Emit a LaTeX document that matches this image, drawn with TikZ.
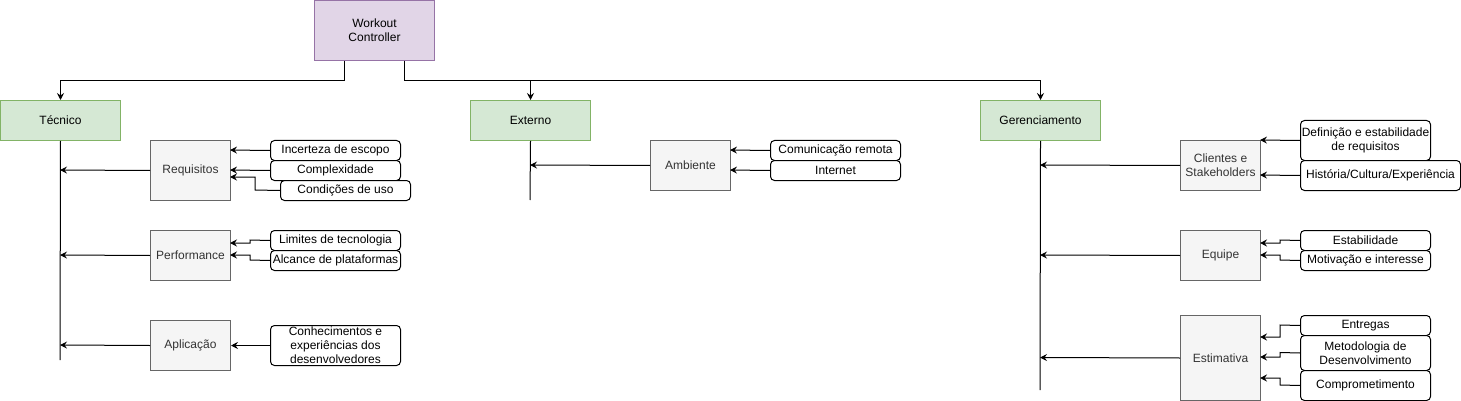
\documentclass[tikz,border=0pt]{standalone}
\usepackage{fontspec}
\setmainfont{Liberation Sans}
\usetikzlibrary{arrows.meta}
\definecolor{purpfill}{HTML}{E1D5E7}
\definecolor{purpline}{HTML}{9673A6}
\definecolor{grnfill}{HTML}{D5E8D4}
\definecolor{grnline}{HTML}{82B366}
\definecolor{gryfill}{HTML}{F5F5F5}
\definecolor{gryline}{HTML}{666666}
\definecolor{grytext}{HTML}{333333}
\tikzset{
  base/.style={font=\fontsize{12}{14}\selectfont, align=center, inner sep=0pt, anchor=north west, line width=1pt},
  rootbox/.style={base, draw=purpline, fill=purpfill},
  catbox/.style={base, draw=grnline, fill=grnfill},
  subbox/.style={base, draw=gryline, fill=gryfill, text=grytext},
  leafbox/.style={base, draw=black, fill=white, rounded corners=4pt},
  conn/.style={line width=1pt, -{Stealth[length=7pt,width=7pt,inset=2.5pt]}},
  plain/.style={line width=1pt}
}
\newcommand{\bx}[6]{\node[#1, minimum width=#4pt, minimum height=#5pt] (#2) at (#3) {#6};}
\begin{document}
\begin{tikzpicture}[x=1pt,y=-1pt]
\useasboundingbox (0,0) rectangle (1461,401);
% root and categories
\bx{rootbox}{wc}{314,0}{120}{60}{Workout\\Controller}
\bx{catbox}{tec}{0,100}{120}{40}{Técnico}
\bx{catbox}{ext}{470,100}{120}{40}{Externo}
\bx{catbox}{ger}{980,100}{120}{40}{Gerenciamento}
% sub boxes
\bx{subbox}{req}{150,140}{80}{60}{Requisitos}
\bx{subbox}{perf}{150,230}{80}{50}{Performance}
\bx{subbox}{apl}{150,320}{80}{50}{Aplicação}
\bx{subbox}{amb}{650,140}{80}{50}{Ambiente}
\bx{subbox}{cli}{1180,140}{80}{50}{Clientes e\\Stakeholders}
\bx{subbox}{equ}{1180,230}{80}{50}{Equipe}
\bx{subbox}{est}{1180,315}{80}{85}{Estimativa}
% leaves
\bx{leafbox}{inc}{270,140}{130}{20}{Incerteza de escopo}
\bx{leafbox}{cpx}{270,160}{130}{20}{Complexidade}
\bx{leafbox}{cond}{280,180}{130}{20}{Condições de uso}
\bx{leafbox}{lim}{270,230}{130}{20}{Limites de tecnologia}
\bx{leafbox}{alc}{270,250}{130}{20}{Alcance de plataformas}
\bx{leafbox}{con}{270,325}{130}{40}{Conhecimentos e\\experiências dos\\desenvolvedores}
\bx{leafbox}{com}{770,140}{130}{20}{Comunicação remota}
\bx{leafbox}{int}{770,160}{130}{20}{Internet}
\bx{leafbox}{def}{1300,120}{130}{40}{Definição e estabilidade\\de requisitos}
\bx{leafbox}{his}{1300,160}{160}{30}{História/Cultura/Experiência}
\bx{leafbox}{stb}{1300,230}{130}{20}{Estabilidade}
\bx{leafbox}{mot}{1300,250}{130}{20}{Motivação e interesse}
\bx{leafbox}{ent}{1300,315}{130}{20}{Entregas}
\bx{leafbox}{met}{1300,335}{130}{35}{Metodologia de\\Desenvolvimento}
\bx{leafbox}{cmp}{1300,370}{130}{30}{Comprometimento}
% spine end points
\coordinate (tecEnd) at (60,360);
\coordinate (extEnd) at (530,200);
\coordinate (gerEnd) at (1040,390);
% root connectors
\draw[conn] ([xshift=-30pt]wc.south) |- ++(0,20) -| (tec.north);
\draw[conn] ([xshift=30pt]wc.south) |- ++(0,20) -| (ext.north);
\draw[conn] ([xshift=30pt]wc.south) |- ++(0,20) -| (ger.north);
% spines
\draw[plain] (tec.south) -- (tecEnd);
\draw[plain] (ext.south) -- (extEnd);
\draw[plain] (ger.south) -- (gerEnd);
% sub to spine
\draw[conn] (req.west) -- (60,170);
\draw[conn] (perf.west) -- (60,255);
\draw[conn] (apl.west) -- (60,345);
\draw[conn] (amb.west) -- (530,165);
\draw[conn] (cli.west) -- (1040,165);
\draw[conn] (equ.west) -- (1040,255);
\draw[conn] (est.west) -- (1040,357.5);
% leaves to sub
\draw[conn] (inc.west) -- (230,150);
\draw[conn] (cpx.west) -- (230,170);
\draw[conn] (cond.west) -- (255,190) -- (255,177) -- (230,177);
\draw[conn] (lim.west) -- (250,240) -- (250,243) -- (230,243);
\draw[conn] (alc.west) -- (250,260) -- (250,255) -- (230,255);
\draw[conn] (con.west) -- (apl.east);
\draw[conn] (com.west) -- (730,150);
\draw[conn] (int.west) -- (730,170);
\draw[conn] (def.west) -- (1260,140);
\draw[conn] (his.west) -- (1260,175);
\draw[conn] (stb.west) -- (1280,240) -- (1280,243) -- (1260,243);
\draw[conn] (mot.west) -- (1280,260) -- (1280,255) -- (1260,255);
\draw[conn] (ent.west) -- (1280,325) -- (1280,337) -- (1260,337);
\draw[conn] (met.west) -- (1280,352.5) -- (1280,357) -- (1260,357);
\draw[conn] (cmp.west) -- (1280,385) -- (1280,378) -- (1260,378);
\end{tikzpicture}
\end{document}
